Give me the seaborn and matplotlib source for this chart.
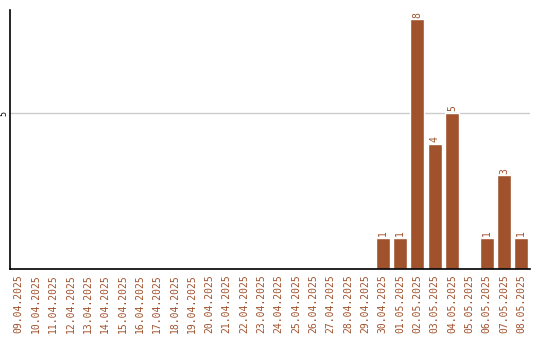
import matplotlib
matplotlib.use("Agg")
import matplotlib.pyplot as plt
import seaborn as sns
import pandas as pd

dates = ["09.04.2025", "10.04.2025", "11.04.2025", "12.04.2025", "13.04.2025",
         "14.04.2025", "15.04.2025", "16.04.2025", "17.04.2025", "18.04.2025",
         "19.04.2025", "20.04.2025", "21.04.2025", "22.04.2025", "23.04.2025",
         "24.04.2025", "25.04.2025", "26.04.2025", "27.04.2025", "28.04.2025",
         "29.04.2025", "30.04.2025", "01.05.2025", "02.05.2025", "03.05.2025",
         "04.05.2025", "05.05.2025", "06.05.2025", "07.05.2025", "08.05.2025"]
counts = [0, 0, 0, 0, 0, 0, 0, 0, 0, 0,
          0, 0, 0, 0, 0, 0, 0, 0, 0, 0,
          0, 1, 1, 8, 4, 5, 0, 1, 3, 1]

color = "#a0522d"
df = pd.DataFrame({"date": dates, "count": counts})

sns.set_style("white")
plt.rcParams["font.family"] = ["DejaVu Sans Mono", "DejaVu Sans"]

fig = plt.figure(figsize=(5.4, 3.4), dpi=100)
ax = fig.add_axes([10/540, 71/340, 520/540, 259/340])
sns.barplot(data=df, x="date", y="count", color=color, saturation=1, width=0.8, ax=ax)

ax.set_ylim(0, 259/31.2)
ax.set_xlim(-0.5, len(dates) - 0.5)
ax.set_yticks([5])
ax.set_yticklabels(["5"], rotation=90, va="center", fontsize=6, color="black")
ax.yaxis.grid(True, color="#cccccc", linewidth=1)
ax.set_axisbelow(True)
ax.tick_params(axis="y", length=0, pad=1)
ax.tick_params(axis="x", length=0, labelrotation=90, labelsize=7, labelcolor=color, pad=4)
ax.set_xlabel("")
ax.set_ylabel("")
for s in ["top", "right"]:
    ax.spines[s].set_visible(False)
for s in ["left", "bottom"]:
    ax.spines[s].set_color("black")
    ax.spines[s].set_linewidth(1.2)

for i, v in enumerate(counts):
    if v > 0:
        ax.text(i, v + 0.06, str(v), rotation=90, ha="center", va="bottom",
                fontsize=7, color=color)

fig.savefig("out.png", dpi=100)
